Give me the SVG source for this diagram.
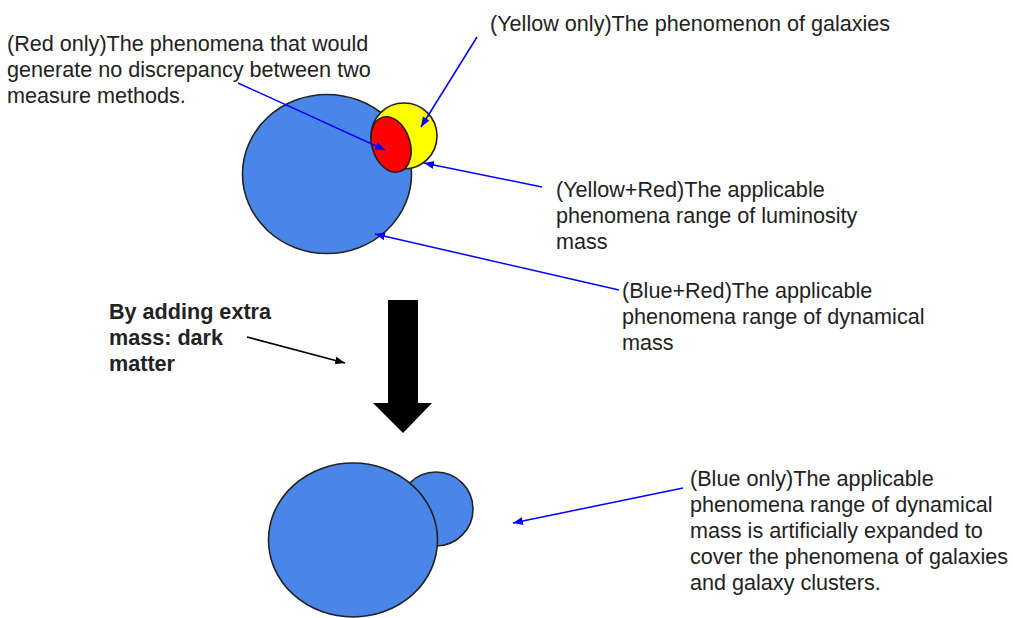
<svg xmlns="http://www.w3.org/2000/svg" width="1013" height="618" viewBox="0 0 1013 618">
<style>
.t{font-family:"Liberation Sans",Arial,sans-serif;font-size:21.6px;fill:#222}
.b{font-weight:bold}
.shape{stroke:#222;stroke-width:1.6}
.con{stroke:#0000ff;stroke-width:1.5;fill:none}
.conk{stroke:#000;stroke-width:1.5;fill:none}
</style>
<defs>
<marker id="ab" markerUnits="userSpaceOnUse" markerWidth="12" markerHeight="10" refX="10" refY="4" orient="auto"><path d="M0,0 L10,4 L0,8 Z" fill="#0000ff"/></marker>
<marker id="ak" markerUnits="userSpaceOnUse" markerWidth="12" markerHeight="10" refX="10" refY="4" orient="auto"><path d="M0,0 L10,4 L0,8 Z" fill="#000"/></marker>
</defs>
<rect width="1013" height="618" fill="#fff"/>
<g id="top-blue"><ellipse class="shape" cx="327" cy="174" rx="84.5" ry="79.5" fill="#4a86e8"/></g>
<g id="top-yellow"><circle class="shape" cx="404" cy="136" r="33" fill="#ffff00"/></g>
<g id="top-red"><ellipse class="shape" cx="391" cy="144.5" rx="19" ry="28.5" fill="#ff0000" transform="rotate(-18 391 144.5)"/></g>
<g id="bottom-small"><circle class="shape" cx="436" cy="509" r="37" fill="#4a86e8"/></g>
<g id="bottom-big"><ellipse class="shape" cx="353" cy="540" rx="84.5" ry="77" fill="#4a86e8"/></g>
<g id="big-arrow"><polygon points="388,300 418,300 418,403 432,403 403,433 373,403 388,403" fill="#000"/></g>
<g id="connectors">
<line class="con" x1="238" y1="83" x2="385" y2="150" marker-end="url(#ab)"/>
<line class="con" x1="477" y1="37" x2="421" y2="127" marker-end="url(#ab)"/>
<line class="con" x1="542" y1="187" x2="424" y2="163" marker-end="url(#ab)"/>
<line class="con" x1="619" y1="290" x2="375" y2="234" marker-end="url(#ab)"/>
<line class="con" x1="683" y1="488" x2="513" y2="523" marker-end="url(#ab)"/>
<line class="conk" x1="247" y1="337" x2="345" y2="363" marker-end="url(#ak)"/>
</g>
<g id="label-red-only">
<text class="t" x="7" y="51">(Red only)The phenomena that would</text>
<text class="t" x="7" y="77">generate no discrepancy between two</text>
<text class="t" x="7" y="103">measure methods.</text>
</g>
<g id="label-yellow-only"><text class="t" x="490" y="31">(Yellow only)The phenomenon of galaxies</text></g>
<g id="label-yellow-red">
<text class="t" x="556" y="197">(Yellow+Red)The applicable</text>
<text class="t" x="556" y="223">phenomena range of luminosity</text>
<text class="t" x="556" y="249">mass</text>
</g>
<g id="label-blue-red">
<text class="t" x="622" y="298">(Blue+Red)The applicable</text>
<text class="t" x="622" y="324">phenomena range of dynamical</text>
<text class="t" x="622" y="350">mass</text>
</g>
<g id="label-blue-only">
<text class="t" x="690" y="486">(Blue only)The applicable</text>
<text class="t" x="690" y="512">phenomena range of dynamical</text>
<text class="t" x="690" y="538">mass is artificially expanded to</text>
<text class="t" x="690" y="564">cover the phenomena of galaxies</text>
<text class="t" x="690" y="590">and galaxy clusters.</text>
</g>
<g id="label-dark-matter">
<text class="t b" x="109" y="319">By adding extra</text>
<text class="t b" x="109" y="345">mass: dark</text>
<text class="t b" x="109" y="371">matter</text>
</g>
</svg>
